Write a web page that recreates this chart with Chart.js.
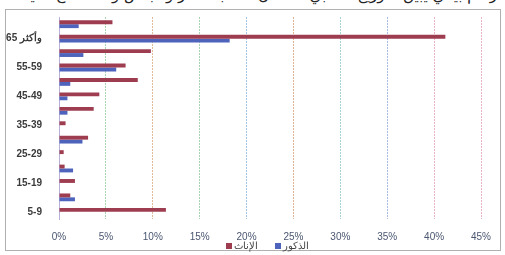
<!DOCTYPE html>
<html>
<head>
<meta charset="utf-8">
<script src="https://cdn.jsdelivr.net/npm/chart.js@4"></script>
<style>
  html, body { margin: 0; padding: 0; background: #fff; }
  #wrap { position: relative; width: 505px; height: 255px; overflow: hidden; }
  #frame { position: absolute; left: 5px; top: 9px; width: 494px; height: 240px; border: 1px solid #b0b0b0; }
  #title { position: absolute; right: 8px; top: -14px; font: 15px "DejaVu Sans", sans-serif; color: #222; direction: rtl; white-space: nowrap; }
  #legend { position: absolute; left: 226px; top: 240px; font: 10px "Liberation Sans", sans-serif; color: #444; white-space: nowrap; direction: ltr; }
  #legend span { unicode-bidi: isolate; }
  #legend span.box { display: inline-block; width: 6px; height: 6px; margin-right: 2px; vertical-align: middle; }
  canvas { position: absolute; left: 0; top: 0; }
</style>
</head>
<body>
<div id="wrap">
  <div id="title">رسم بياني يبين التوزيع النسبي للسكان حسب العمر والجنس وفقاً لنتائج العينة</div>
  <div id="frame"></div>
  <canvas id="js-chartjs-bars" width="505" height="255"></canvas>
  <div id="legend">
    <span class="box" style="background:#9e3d50"></span><span>الإناث</span>
    <span class="box" style="background:#4e63bb;margin-left:14px"></span><span>الذكور</span>
  </div>
</div>
<script>
// Age groups, top to bottom as drawn
const ageGroups = ['غير مبين', 'وأكثر' + ' 65', '60-64', '55-59', '50-54', '45-49', '40-44',
  '35-39', '30-34', '25-29', '20-24', '15-19', '10-14', '5-9'];

// Percentages
const femaleValues = [5.7, 41.2, 9.8, 7.1, 8.4, 4.3, 3.7, 0.7, 3.1, 0.5, 0.6, 1.7, 1.2, 11.4];
const maleValues = [2.1, 18.2, 2.6, 6.1, 1.2, 0.9, 0.9, 0, 2.5, 0, 1.5, 0, 1.7, 0];

const xTicks = [0, 5, 10, 15, 20, 25, 30, 35, 40, 45];
const gridColors = ['#b8b0d8', '#a8d4b0', '#e2bc98', '#a8d4b4', '#a4c4e4', '#e0b494', '#a4d4d4', '#a8bce4', '#e8b4c4', '#e8b4c4'];

// Get Chart Container
let chartBarsCon = document.getElementById('js-chartjs-bars');

let chartBars = new Chart(chartBarsCon, {
  type: 'bar',
  data: {
    labels: ageGroups,
    datasets: [
      { label: 'الإناث', data: femaleValues, backgroundColor: '#9e3d50' },
      { label: 'الذكور', data: maleValues, backgroundColor: '#4e63bb' }
    ]
  },
  plugins: [{
    // Arabic age label reads right to left
    id: 'rtlLabels',
    beforeDraw: chart => { chart.ctx.direction = 'rtl'; }
  }],
  options: {
    indexAxis: 'y',
    responsive: false,
    animation: false,
    categoryPercentage: 0.54,
    barPercentage: 1,
    layout: { padding: { left: 4, right: 24, top: 17, bottom: 0 } },
    plugins: { legend: { display: false }, tooltip: { enabled: false } },
    scales: {
      x: {
        min: 0,
        max: 45,
        afterBuildTicks: s => { s.ticks = xTicks.map(v => ({ value: v })); },
        afterFit: s => { s.height = 36; },
        border: { display: false, dash: [2, 1] },
        grid: {
          drawTicks: false,
          color: ctx => gridColors[ctx.index] || '#ccc',
          lineWidth: 1
        },
        ticks: {
          padding: 12,
          color: '#4a5670',
          font: { family: 'Liberation Sans', size: 10 },
          callback: v => v + '%'
        }
      },
      y: {
        afterFit: s => { s.width = 55; },
        border: { display: true, color: '#b8b0d8' },
        grid: { display: false },
        ticks: {
          autoSkip: false,
          padding: 9,
          color: '#3a3a3a',
          font: { family: 'Liberation Sans', size: 10, weight: 'bold' },
          callback: (v, i) => (i % 2 === 1 ? ageGroups[i] : '')
        }
      }
    }
  }
});
</script>
</body>
</html>
